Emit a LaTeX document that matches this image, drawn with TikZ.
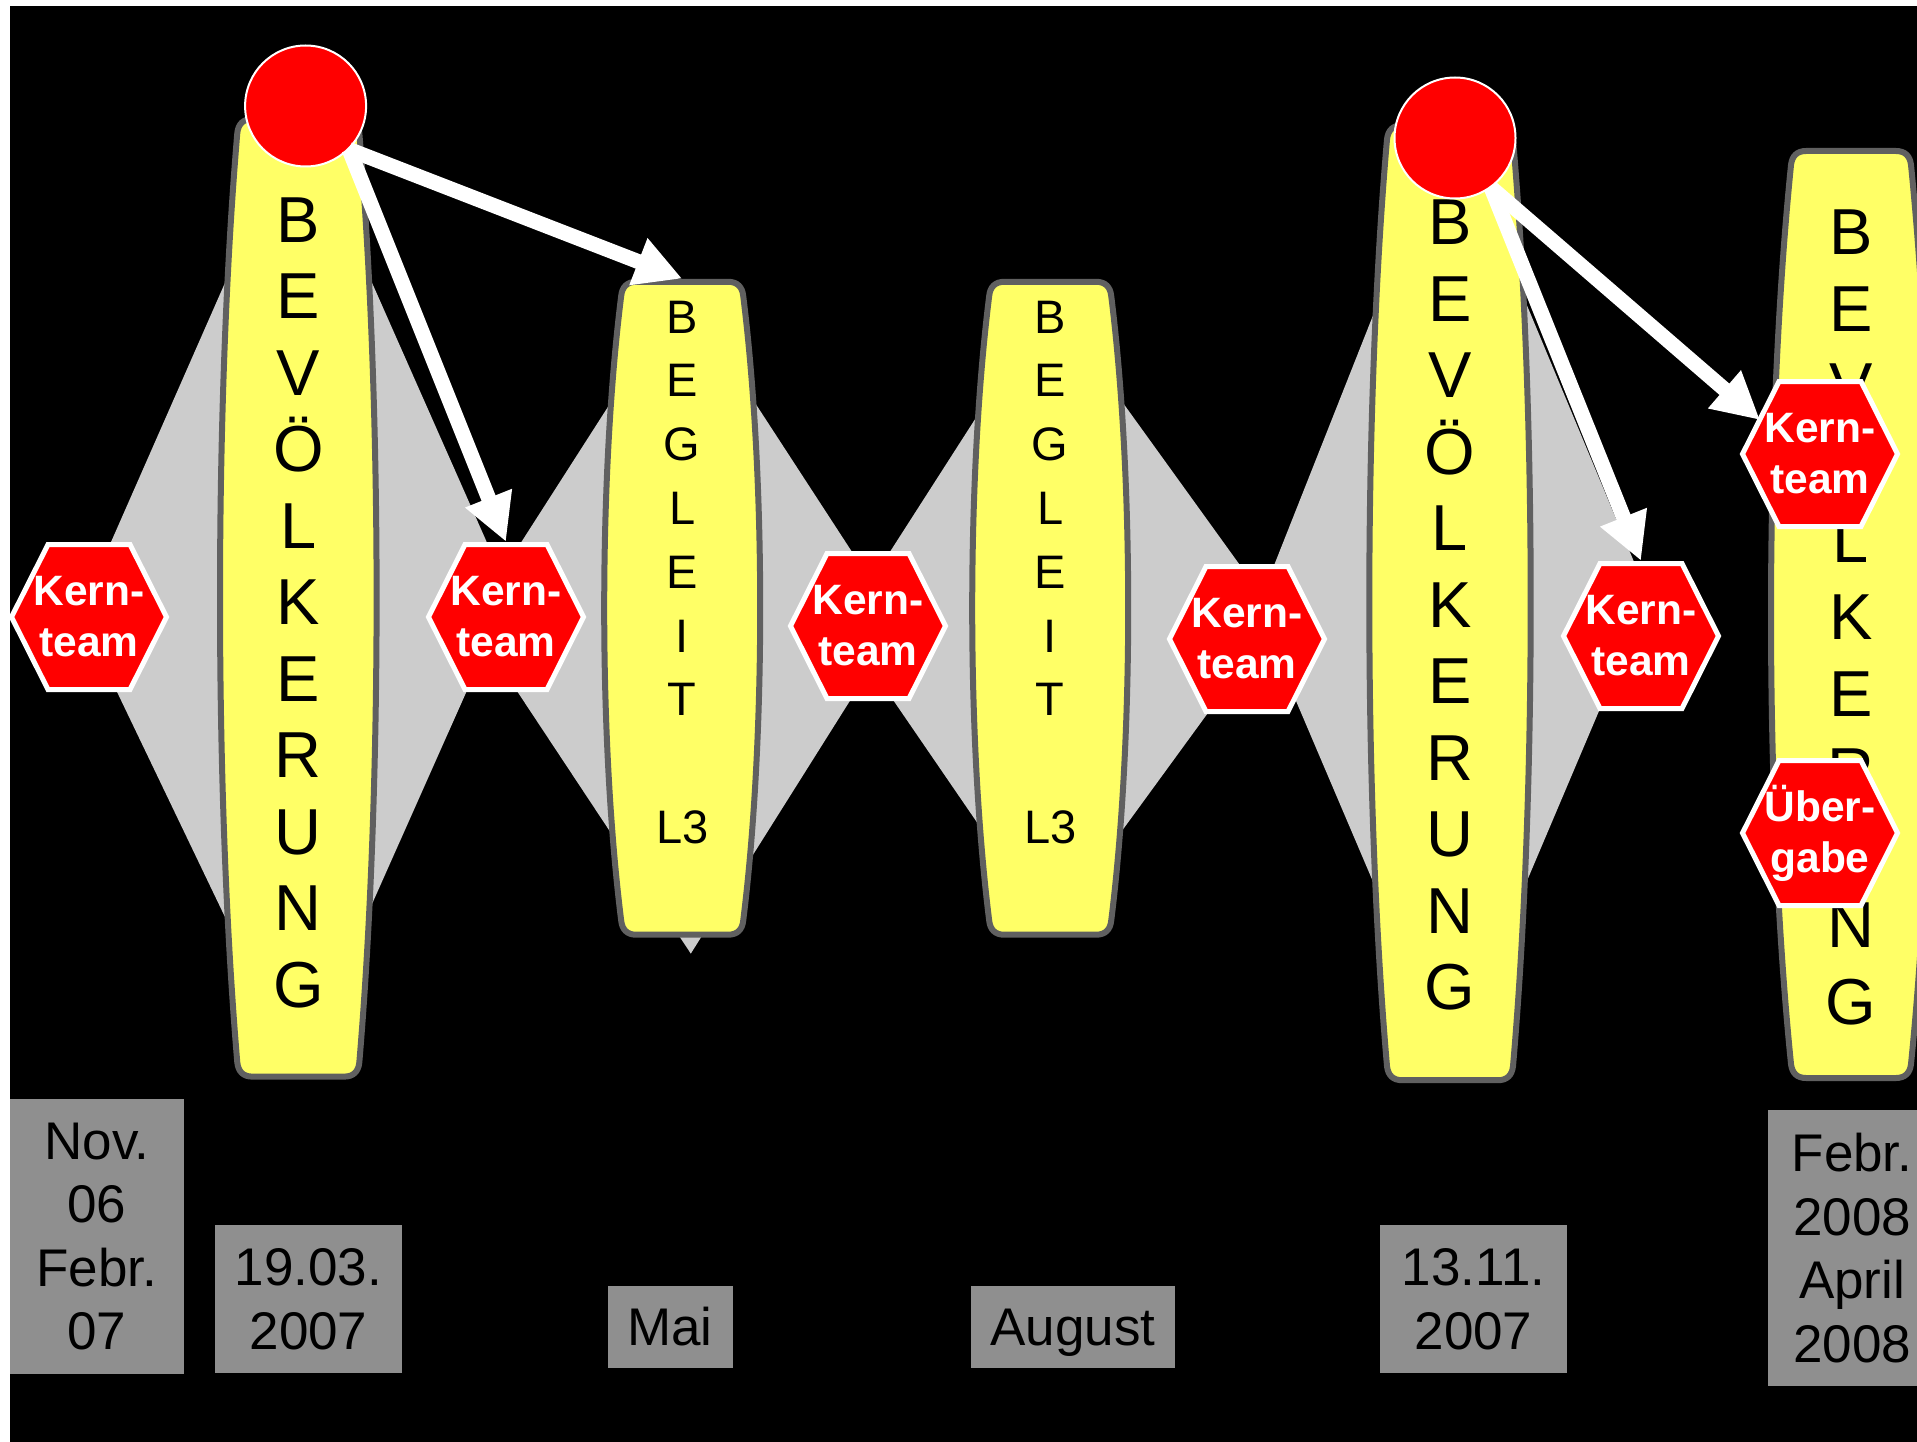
\documentclass[tikz,border=0pt]{standalone}
\usepackage{fontspec}
\setmainfont{Liberation Sans}
\usetikzlibrary{arrows.meta,calc}
\definecolor{pillarfill}{RGB}{255,255,102}
\definecolor{pillarline}{RGB}{96,96,96}
\definecolor{diamondgray}{RGB}{204,204,204}
\definecolor{dategray}{RGB}{143,143,143}
\definecolor{hexred}{RGB}{255,0,0}

\newcommand\barrel[5]{%
  \pgfmathsetmacro\bxc{(#5-0.25*(#4+1))/0.75}%
  \pgfmathsetmacro\bh{0.3*(#3-#2)}%
  \path[pillar] ({#1-#4+14},#2) -- ({#1+#4-14},#2)
   .. controls ({#1+#4-5},#2) and ({#1+#4},{#2+5}) .. ({#1+#4+1},{#2+14})
   .. controls ({#1+\bxc},{#2+\bh}) and ({#1+\bxc},{#3-\bh}) .. ({#1+#4+1},{#3-14})
   .. controls ({#1+#4},{#3-5}) and ({#1+#4-5},#3) .. ({#1+#4-14},#3)
   -- ({#1-#4+14},#3)
   .. controls ({#1-#4+5},#3) and ({#1-#4},{#3-5}) .. ({#1-#4-1},{#3-14})
   .. controls ({#1-\bxc},{#3-\bh}) and ({#1-\bxc},{#2+\bh}) .. ({#1-#4-1},{#2+14})
   .. controls ({#1-#4},{#2+5}) and ({#1-#4+5},#2) .. cycle;}

\newcommand\hexnode[4]{%
  \path[hexshape] ({#2-77.5},#3) -- ({#2-41},{#3-72.5}) -- ({#2+41},{#3-72.5})
    -- ({#2+77.5},#3) -- ({#2+41},{#3+72.5}) -- ({#2-41},{#3+72.5}) -- cycle;
  \node[hextext] (#1) at (#2,#3) {#4};}

\begin{document}
\begin{tikzpicture}[x=1pt,y=-1pt,
  pillar/.style={fill=pillarfill, draw=pillarline, line width=6pt},
  diam/.style={fill=diamondgray},
  hexshape/.style={fill=hexred, draw=white, line width=5pt, line join=miter},
  hextext/.style={text=white, font=\fontsize{42.5}{51}\selectfont\bfseries,
    align=center, inner sep=0pt, minimum width=160pt, minimum height=150pt},
  bev/.style={font=\fontsize{65}{76.5}\selectfont, align=center, inner sep=0pt},
  begl/.style={font=\fontsize{47}{63.8}\selectfont, align=center, inner sep=0pt},
  datestyle/.style={fill=dategray, inner sep=0pt, align=center,
    font=\fontsize{53}{63.5}\selectfont},
  dot/.style={circle, fill=hexred, draw=white, line width=2pt,
    minimum size=121pt, inner sep=0pt},
  arr/.style={draw=white, line width=15pt, -{Triangle[length=47pt,width=47pt]}},
  holder/.style={inner sep=0pt, minimum width=160pt}]

\useasboundingbox (0,0) rectangle (1917,1442);
\fill[white] (0,0) rectangle (1917,1442);
\fill[black] (10,6) rectangle (1917,1442);

% grey diamonds
\fill[diam] (79.5,613.7) -- (298.3,116.1) -- (509.8,594.2) -- (298.3,1069.8) -- cycle;
\fill[diam] (470.7,621.1) -- (682.2,291) -- (898.6,623.5) -- (690.8,953.6) -- cycle;
\fill[diam] (842.4,626) -- (1050.2,302) -- (1277.6,617.4) -- (1050.2,929.2) -- cycle;
\fill[diam] (1256.8,608.9) -- (1450,121) -- (1648,595.4) -- (1450,1062.4) -- cycle;

% pillars
\barrel{298.3}{119}{1076.6}{60}{78.3}
\barrel{682.2}{281.8}{934.7}{60}{78}
\barrel{1050.2}{281.8}{934.7}{60}{78}
\barrel{1450}{125.3}{1080.2}{62}{80.7}
\barrel{1851}{151}{1078}{59}{80}

\node[holder, minimum height=963.6pt] (p1) at (298.3,597.8) {};
\node[holder, minimum height=658.9pt] (p2) at (682.2,608.25) {};
\node[holder, minimum height=658.9pt] (p3) at (1050.2,608.25) {};
\node[holder, minimum height=960.9pt] (p4) at (1450,602.75) {};
\node[holder, minimum height=933pt] (p5) at (1851,614.5) {};

\node[bev] (t1) at (298.3,602.5) {B\\E\\V\\Ö\\L\\K\\E\\R\\U\\N\\G};
\node[begl] (t2) at (682.2,572.3) {B\\E\\G\\L\\E\\I\\T\\\\L3};
\node[begl] (t3) at (1050.2,572.3) {B\\E\\G\\L\\E\\I\\T\\\\L3};
\node[bev] (t4) at (1450,605.3) {B\\E\\V\\Ö\\L\\K\\E\\R\\U\\N\\G};
\node[bev, font=\fontsize{65}{77}\selectfont] (t5) at (1851,617.3) {B\\E\\V\\Ö\\L\\K\\E\\R\\U\\N\\G};

% hexagons
\hexnode{k1}{89}{617}{Kern-\\team}
\hexnode{k2}{506}{617}{Kern-\\team}
\hexnode{k3}{868}{626}{Kern-\\team}
\hexnode{k4}{1247}{639}{Kern-\\team}
\hexnode{k5}{1641}{636}{Kern-\\team}
\hexnode{k6}{1820}{454}{Kern-\\team}
\hexnode{k7}{1820}{833}{Über-\\gabe}

% red dots
\node[dot] (c1) at (305.6,106) {};
\node[dot] (c2) at (1455,138) {};

% arrows
\draw[arr] (c1.-45) -- (k2.north);
\draw[arr] (c1.-45) -- (p2.north);
\draw[arr] (c2.-54) -- (k5.north);
\draw[arr] (c2.-54) -- ($(k6.center)+(-60,-34)$);

% date boxes
\node[datestyle, minimum width=174pt, minimum height=275pt] (d1) at (97,1236.5) {Nov.\\06\\Febr.\\07};
\node[datestyle, minimum width=187pt, minimum height=148pt] (d2) at (308.5,1299) {19.03.\\2007};
\node[datestyle, minimum width=125pt, minimum height=82pt] (d3) at (670,1327) {Mai};
\node[datestyle, minimum width=204pt, minimum height=82pt, text depth=0pt] (d4) at (1072.8,1327) {August};
\node[datestyle, minimum width=187pt, minimum height=148pt] (d5) at (1473.5,1299) {13.11.\\2007};
\node[datestyle, minimum width=168pt, minimum height=276pt] (d6) at (1852,1248) {Febr.\\2008\\April\\2008};
\end{tikzpicture}
\end{document}
